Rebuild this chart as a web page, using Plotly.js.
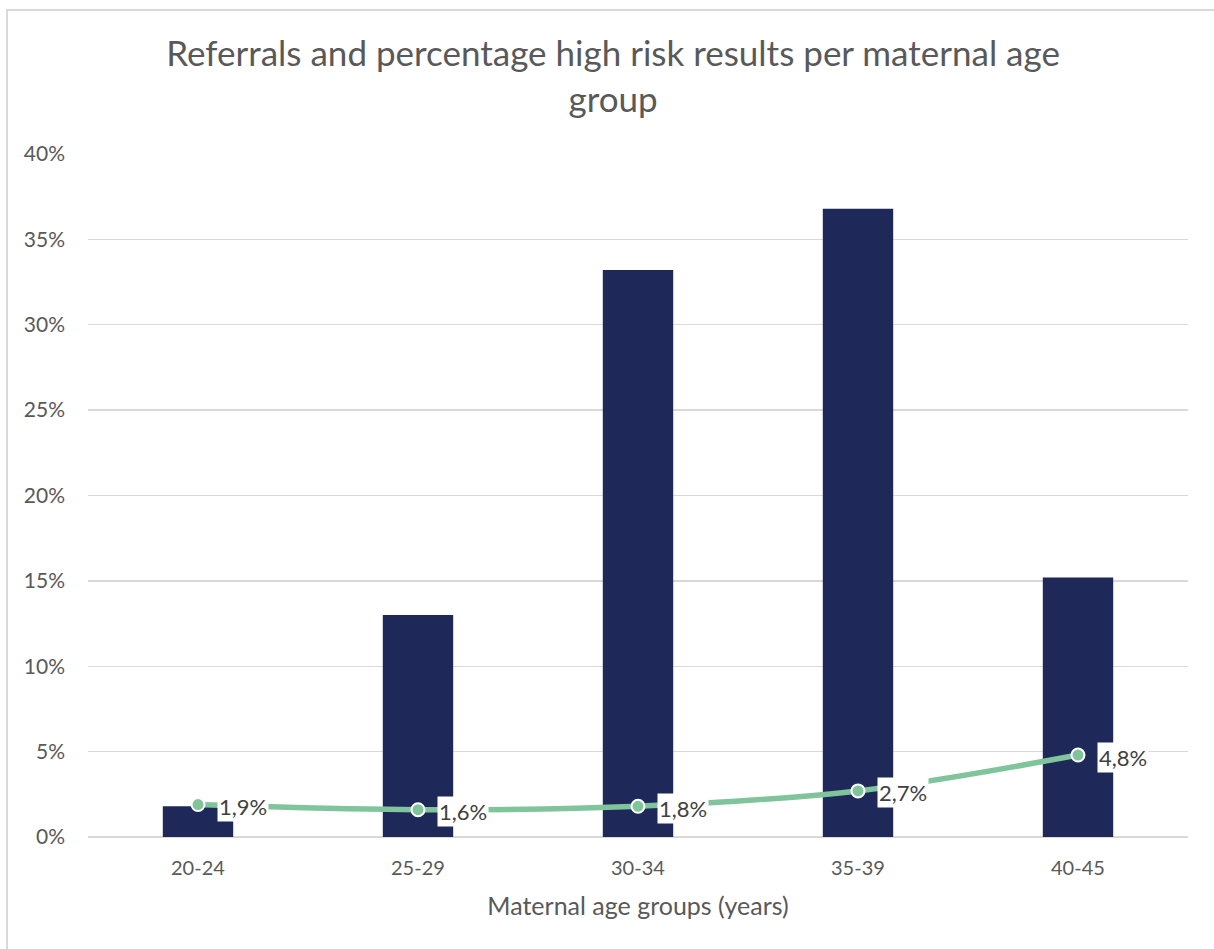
<!DOCTYPE html>
<html>
<head>
<meta charset="utf-8">
<script src="https://cdn.plot.ly/plotly-3.0.1.min.js"></script>
<style>
  html, body { margin: 0; padding: 0; background: #ffffff; }
  #chart { position: absolute; left: 0; top: 0; width: 1214px; height: 949px; }
  #frame { position: absolute; left: 6px; top: 9px; width: 1240px; height: 980px;
           border-left: 2px solid #d9d9d9; border-top: 2px solid #d9d9d9; pointer-events: none; }
</style>
</head>
<body>
<div id="chart"></div>
<div id="frame"></div>
<script>
// Maternal age groups
const ageGroups = ['20-24', '25-29', '30-34', '35-39', '40-45'];
// Share of referrals per age group
const referrals = [0.018, 0.130, 0.332, 0.368, 0.152];
// Percentage of high risk results per age group
const highRisk = [0.019, 0.016, 0.018, 0.027, 0.048];
// Y axis ticks
const yTicks = [0, 0.05, 0.10, 0.15, 0.20, 0.25, 0.30, 0.35, 0.40];
const yTickText = ['0%', '5%', '10%', '15%', '20%', '25%', '30%', '35%', '40%'];

const FONT = 'Lato, "Open Sans", sans-serif';
const GREY = '#595959';

const bars = {
  type: 'bar',
  x: ageGroups,
  y: referrals,
  width: 0.32,
  marker: { color: '#1e2859' },
  hoverinfo: 'skip',
  showlegend: false
};

const line = {
  type: 'scatter',
  mode: 'lines+markers',
  x: ageGroups,
  y: highRisk,
  line: { color: '#80c49b', width: 5.5, shape: 'spline', smoothing: 1 },
  marker: { color: '#80c49b', size: 13, line: { color: '#ffffff', width: 2 } },
  hoverinfo: 'skip',
  showlegend: false
};

// Value labels on white boxes to the right of each point
const valueLabels = ageGroups.map((g, i) => ({
  x: g,
  y: highRisk[i],
  xref: 'x',
  yref: 'y',
  text: (highRisk[i] * 100).toFixed(1).replace('.', ',') + '%',
  showarrow: false,
  xanchor: 'left',
  yanchor: 'middle',
  xshift: 19,
  yshift: -2,
  bgcolor: '#ffffff',
  borderpad: 1,
  font: { family: FONT, size: 22, color: '#404040' }
}));

// Category names set a little further below the baseline
const categoryLabels = ageGroups.map(g => ({
  x: g,
  y: 0,
  xref: 'x',
  yref: 'y',
  text: g,
  showarrow: false,
  xanchor: 'center',
  yanchor: 'middle',
  yshift: -30,
  font: { family: FONT, size: 20, color: GREY }
}));

const layout = {
  width: 1214,
  height: 949,
  paper_bgcolor: '#ffffff',
  plot_bgcolor: '#ffffff',
  margin: { l: 88, r: 26, t: 154, b: 112 },
  title: {
    text: 'Referrals and percentage high risk results per maternal age<br>group',
    font: { family: FONT, size: 35, color: GREY },
    x: 0.505,
    xanchor: 'center',
    y: 0.930,
    yanchor: 'top'
  },
  xaxis: {
    type: 'category',
    automargin: false,
    showgrid: false,
    showline: false,
    zeroline: false,
    ticks: '',
    showticklabels: false,
    title: { text: 'Maternal age groups (years)', font: { family: FONT, size: 25, color: GREY }, standoff: 60 },
    fixedrange: true
  },
  yaxis: {
    automargin: false,
    range: [0, 0.4],
    tickvals: yTicks,
    ticktext: yTickText,
    showgrid: true,
    gridcolor: '#d9d9d9',
    gridwidth: 1.3,
    zeroline: true,
    zerolinecolor: '#d9d9d9',
    zerolinewidth: 2,
    showline: false,
    ticks: '',
    ticklabelstandoff: 22,
    tickfont: { family: FONT, size: 21, color: GREY },
    fixedrange: true
  },
  annotations: categoryLabels.concat(valueLabels)
};

Plotly.newPlot('chart', [bars, line], layout, { displayModeBar: false, staticPlot: true });
</script>
</body>
</html>
